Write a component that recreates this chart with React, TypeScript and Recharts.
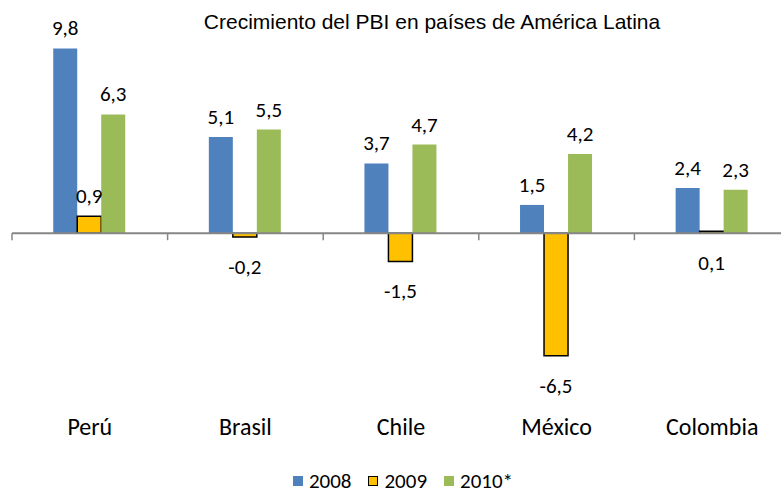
import { Bar, BarChart, LabelList, Legend, ReferenceLine, XAxis, YAxis } from 'recharts';

const countries = ['Perú', 'Brasil', 'Chile', 'México', 'Colombia'];
const growth2008 = [9.8, 5.1, 3.7, 1.5, 2.4];
const growth2009 = [0.9, -0.2, -1.5, -6.5, 0.1];
const growth2010 = [6.3, 5.5, 4.7, 4.2, 2.3];

const SERIES = [
  { key: 'y2008', name: '2008', fill: '#4F81BD', stroke: 'none' },
  { key: 'y2009', name: '2009', fill: '#FFC000', stroke: '#000000' },
  { key: 'y2010', name: '2010*', fill: '#9BBB59', stroke: 'none' },
];

const FONT = "Carlito, 'Liberation Sans Narrow', 'DejaVu Sans Condensed', sans-serif";

const data = countries.map((country, i) => ({
  country,
  y2008: growth2008[i],
  y2009: growth2009[i],
  y2010: growth2010[i],
}));

function formatValue(v: number): string {
  return v.toFixed(1).replace('.', ',');
}

function BarValueLabel(props: any) {
  const { x, y, width, height, value } = props;
  if (value == null) return null;
  const top = Math.min(y, y + height);
  const bottom = Math.max(y, y + height);
  // Excel put the tiny values under the axis
  const above = value > 0.2;
  return (
    <text
      x={x + width / 2}
      y={above ? top - 20 : bottom + 30}
      textAnchor="middle"
      dominantBaseline="central"
      fontFamily={FONT}
      fontSize={21}
      fill="#000"
    >
      {formatValue(value)}
    </text>
  );
}

function ZeroAxisTicks(props: any) {
  const vb = props.viewBox;
  if (!vb) return null;
  const step = (vb.width ?? 0) / countries.length;
  return (
    <g>
      {Array.from({ length: countries.length + 1 }, (_, i) => (
        <line
          key={i}
          x1={vb.x + i * step}
          x2={vb.x + i * step}
          y1={vb.y}
          y2={vb.y + 7}
          stroke="#868686"
          strokeWidth={1.5}
        />
      ))}
    </g>
  );
}

function LegendContent() {
  return (
    <div
      style={{
        position: 'relative',
        top: 4,
        display: 'flex',
        justifyContent: 'center',
        alignItems: 'center',
        gap: 17,
        fontFamily: FONT,
        fontSize: 21,
        lineHeight: '24px',
        color: '#000',
        height: 24,
        paddingLeft: 4,
      }}
    >
      {SERIES.map((s) => (
        <div key={s.key} style={{ display: 'flex', alignItems: 'center', gap: 6 }}>
          <span
            style={{
              display: 'inline-block',
              width: s.stroke === 'none' ? 10 : 8,
              height: s.stroke === 'none' ? 10 : 8,
              background: s.fill,
              border: s.stroke === 'none' ? 'none' : `1.5px solid ${s.stroke}`,
            }}
          />
          <span>{s.name}</span>
        </div>
      ))}
    </div>
  );
}

export default function App() {
  return (
    <div
      style={{
        position: 'absolute',
        left: 0,
        top: 0,
        width: 781,
        height: 495,
        overflow: 'hidden',
        background: '#fff',
      }}
    >
      <div
        style={{
          position: 'absolute',
          left: 432,
          top: 22,
          transform: 'translate(-50%, -50%)',
          whiteSpace: 'nowrap',
          fontFamily: "'Liberation Sans', Arial, sans-serif",
          fontSize: 21,
          color: '#000',
          zIndex: 1,
        }}
      >
        Crecimiento del PBI en países de América Latina
      </div>
      <BarChart
        width={790}
        height={495}
        data={data}
        margin={{ top: 7, right: 0, left: 12, bottom: 0 }}
        barGap={0}
        barCategoryGap="26.5%"
      >
        <XAxis
          dataKey="country"
          axisLine={false}
          tickLine={false}
          height={81}
          tickMargin={28}
          tick={{ fill: '#000', fontSize: 24, fontFamily: FONT }}
          interval={0}
        />
        <YAxis hide domain={[-8, 12]} type="number" allowDataOverflow />
        <Legend verticalAlign="bottom" height={30} content={<LegendContent />} />
        {SERIES.map((s) => (
          <Bar
            key={s.key}
            dataKey={s.key}
            name={s.name}
            fill={s.fill}
            stroke={s.stroke}
            strokeWidth={s.stroke === 'none' ? 0 : 1.5}
            isAnimationActive={false}
          >
            <LabelList dataKey={s.key} content={<BarValueLabel />} />
          </Bar>
        ))}
        <ReferenceLine y={0} stroke="#868686" strokeWidth={2} label={<ZeroAxisTicks />} />
      </BarChart>
    </div>
  );
}
